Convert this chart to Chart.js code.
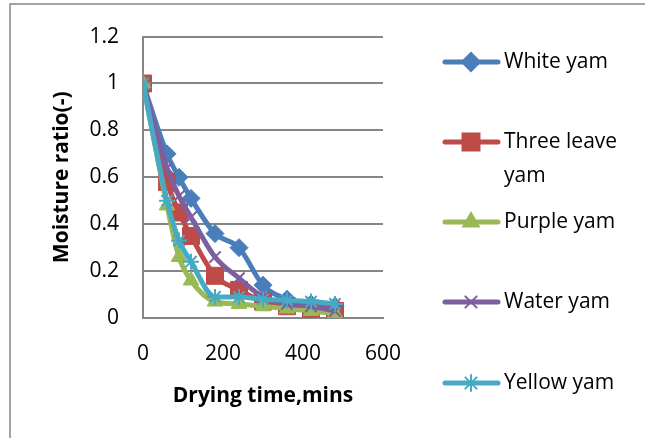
<!DOCTYPE html>
<html>
<head>
<meta charset="utf-8">
<script src="https://cdn.jsdelivr.net/npm/chart.js@4.4.0/dist/chart.umd.min.js"></script>
<style>
  body { margin: 0; background: #fff; }
  canvas { display: block; }
</style>
</head>
<body>
<canvas id="chart" width="645" height="438"></canvas>
<script>
// drying time (mins)
const times = [0, 60, 90, 120, 180, 240, 300, 360, 420, 480];

// moisture ratio per yam type
const whiteYam = [1, 0.70, 0.60, 0.51, 0.36, 0.30, 0.14, 0.08, 0.06, 0.05];
const threeLeaveYam = [1, 0.58, 0.45, 0.35, 0.18, 0.12, 0.07, 0.05, 0.04, 0.03];
const purpleYam = [1, 0.48, 0.26, 0.16, 0.07, 0.06, 0.05, 0.04, 0.03, 0.02];
const waterYam = [1, 0.64, 0.52, 0.43, 0.26, 0.17, 0.09, 0.06, 0.05, 0.03];
const yellowYam = [1, 0.50, 0.33, 0.24, 0.09, 0.09, 0.08, 0.075, 0.07, 0.06];

const seriesNames = ["White yam", ["Three leave", "yam"], "Purple yam", "Water yam", "Yellow yam"];
const yTicks = ["0", "0.2", "0.4", "0.6", "0.8", "1", "1.2"];
const xTicks = ["0", "200", "400", "600"];

const colors = ["#4A7EBB", "#BE4B48", "#98B954", "#7D5FA0", "#46AAC5"];
const markers = ["rectRot", "rect", "triangle", "crossRot", "star"];
const markerSize = [9, 12, 9, 8, 8];
const FONT = "'Open Sans', Lato, sans-serif";

function pts(ys) {
  return times.map((t, i) => ({ x: t, y: ys[i] }));
}

const allSeries = [whiteYam, threeLeaveYam, purpleYam, waterYam, yellowYam];

const datasets = allSeries.map((s, i) => ({
  label: Array.isArray(seriesNames[i]) ? seriesNames[i].join(" ") : seriesNames[i],
  data: pts(s),
  borderColor: colors[i],
  backgroundColor: colors[i],
  borderWidth: 5,
  pointStyle: markers[i],
  pointRadius: markerSize[i],
  pointBorderWidth: (markers[i] == "crossRot" || markers[i] == "star") ? 2 : 1,
  pointBorderColor: colors[i],
  pointBackgroundColor: colors[i],
  cubicInterpolationMode: "monotone",
  order: 5 - i
}));

// frame + legend drawn by hand (Excel style)
const extras = {
  id: "extras",
  afterDraw(chart) {
    const ctx = chart.ctx;
    ctx.save();
    ctx.strokeStyle = "#868686";
    ctx.lineWidth = 1.5;
    ctx.beginPath();
    ctx.moveTo(10, 438);
    ctx.lineTo(10, 4);
    ctx.lineTo(645, 4);
    ctx.stroke();

    const rows = [62, 142, 222, 302, 383];
    ctx.font = "21px " + FONT;
    ctx.textBaseline = "middle";
    ctx.textAlign = "left";
    rows.forEach((y, i) => {
      ctx.strokeStyle = colors[i];
      ctx.lineWidth = 5;
      ctx.lineCap = "round";
      ctx.beginPath();
      ctx.moveTo(445, y);
      ctx.lineTo(498, y);
      ctx.stroke();
      ctx.fillStyle = colors[i];
      ctx.strokeStyle = colors[i];
      ctx.lineWidth = 2;
      Chart.helpers.drawPoint(ctx, { pointStyle: markers[i], radius: markerSize[i], borderWidth: 2 }, 471, y);
      ctx.fillStyle = "#000";
      const name = seriesNames[i];
      if (Array.isArray(name)) {
        name.forEach((line, k) => ctx.fillText(line, 504, y + k * 34));
      } else {
        ctx.fillText(name, 504, y);
      }
    });
    ctx.restore();
  }
};

new Chart(document.getElementById("chart"), {
  type: "line",
  data: { datasets: datasets },
  options: {
    responsive: false,
    animation: false,
    layout: { padding: { left: 20, top: 33, right: 262, bottom: 28 } },
    plugins: {
      legend: { display: false },
      tooltip: { enabled: false }
    },
    scales: {
      x: {
        type: "linear",
        min: 0,
        max: 600,
        afterFit: (s) => { s.height = 92; },
        afterBuildTicks: (s) => { s.ticks = xTicks.map(v => ({ value: Number(v) })); },
        ticks: {
          color: "#000",
          font: { family: FONT, size: 21 },
          padding: 23,
          callback: (v) => String(v)
        },
        grid: { display: false, drawTicks: false },
        border: { color: "#868686", width: 2 },
        title: {
          display: true,
          text: "Drying time,mins",
          color: "#000",
          font: { family: FONT, size: 21, weight: "bold" },
          padding: { top: 10, bottom: 1 }
        }
      },
      y: {
        min: 0,
        max: 1.2,
        afterFit: (s) => { s.width = 123; },
        afterBuildTicks: (s) => { s.ticks = yTicks.map(v => ({ value: Number(v) })); },
        ticks: {
          color: "#000",
          font: { family: FONT, size: 21 },
          padding: 24,
          callback: (v, i) => yTicks[i]
        },
        grid: { color: "#868686", lineWidth: 2, drawTicks: false },
        border: { color: "#868686", width: 2 },
        title: {
          display: true,
          text: "Moisture ratio(-)",
          color: "#000",
          font: { family: FONT, size: 21, weight: "bold" },
          padding: { top: 29, bottom: 4 }
        }
      }
    }
  },
  plugins: [extras]
});
</script>
</body>
</html>
